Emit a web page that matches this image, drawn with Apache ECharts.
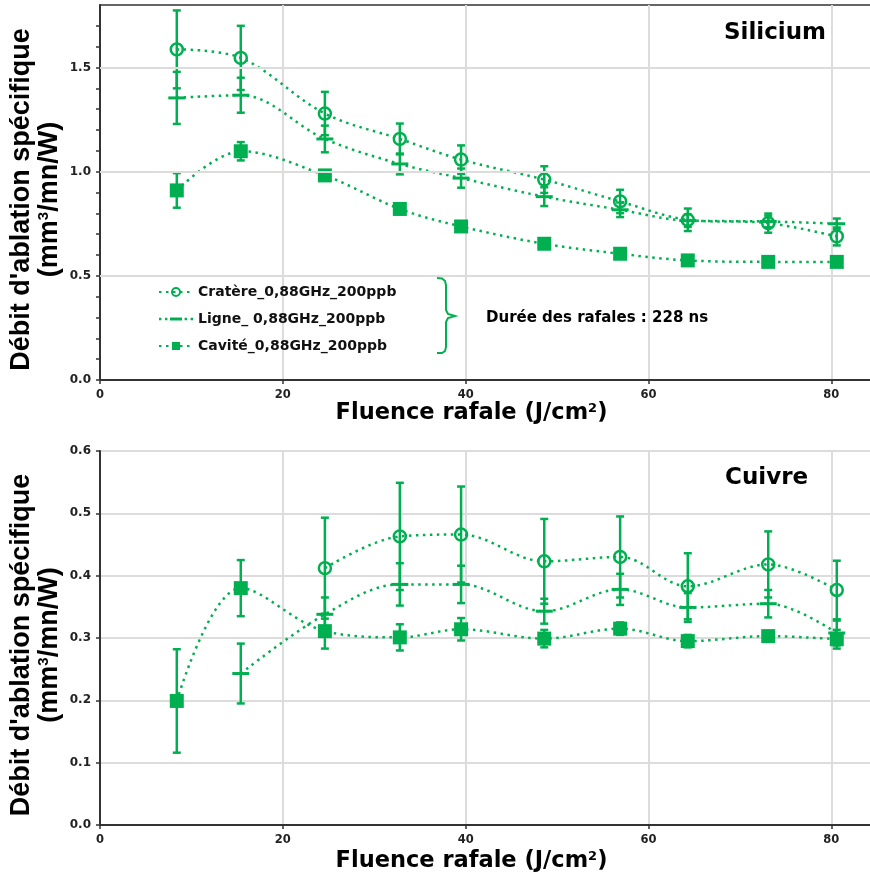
<!DOCTYPE html>
<html>
<head>
<meta charset="utf-8">
<script src="https://cdn.jsdelivr.net/npm/echarts@6/dist/echarts.min.js"></script>
<style>html,body{margin:0;padding:0;background:#fff}#c{width:870px;height:877px}</style>
</head>
<body>
<div id="c"></div>
<script>
// ---------- DATA ----------
const fluence = [8.4, 15.4, 24.6, 32.8, 39.5, 48.6, 56.9, 64.3, 73.1, 80.6];
const seriesNames = ['Cratère_0,88GHz_200ppb', 'Ligne_ 0,88GHz_200ppb', 'Cavité_0,88GHz_200ppb'];

// Silicium
const siCratere    = [1.587, 1.546, 1.279, 1.157, 1.058, 0.962, 0.857, 0.769, 0.753, 0.689];
const siCratereErr = [0.187, 0.154, 0.104, 0.074, 0.068, 0.064, 0.056, 0.054, 0.046, 0.043];
const siLigne      = [1.354, 1.367, 1.157, 1.037, 0.969, 0.880, 0.817, 0.765, 0.761, 0.750];
const siLigneErr   = [0.125, 0.084, 0.064, 0.050, 0.046, 0.045, 0.035, 0.030, 0.028, 0.025];
const siCavite     = [0.910, 1.098, 0.982, 0.821, 0.737, 0.654, 0.606, 0.574, 0.567, 0.567];
const siCaviteErr  = [0.083, 0.044, 0.012, 0.010, 0.010, 0.010, 0.008, 0.008, 0.008, 0.008];

// Cuivre
const cuCratere    = [null, null, 0.412, 0.463, 0.466, 0.423, 0.430, 0.383, 0.418, 0.377];
const cuCratereErr = [null, null, 0.081, 0.086, 0.077, 0.068, 0.065, 0.053, 0.053, 0.047];
const cuLigne      = [null, 0.243, 0.338, 0.386, 0.386, 0.343, 0.378, 0.349, 0.355, 0.308];
const cuLigneErr   = [null, 0.048, 0.027, 0.034, 0.030, 0.020, 0.025, 0.023, 0.022, 0.020];
const cuCavite     = [0.199, 0.380, 0.311, 0.301, 0.314, 0.299, 0.315, 0.295, 0.303, 0.298];
const cuCaviteErr  = [0.083, 0.045, 0.028, 0.021, 0.018, 0.014, 0.010, 0.010, 0.008, 0.015];

// axes
const xTicks = [0, 20, 40, 60, 80];
const siGridValues = [0.5, 1.0, 1.5];
const siYMax = 1.8;
const cuYMax = 0.6;
const xMax = 85;

// ---------- STYLE ----------
const GREEN = '#00B050';
const DJ = '"DejaVu Sans", sans-serif';
const LIB = '"Liberation Sans", Arial, sans-serif';

function pts(vals) {
  return fluence.map((x, i) => vals[i] == null ? null : [x, vals[i]]).filter(Boolean);
}
function errs(vals, e) {
  return fluence.map((x, i) => vals[i] == null ? null : [x, vals[i] - e[i], vals[i] + e[i]]).filter(Boolean);
}
function renderErr(params, api) {
  const x = api.value(0), lo = api.value(1), hi = api.value(2);
  const p1 = api.coord([x, hi]), p2 = api.coord([x, lo]);
  const w = 4;
  const st = { stroke: GREEN, lineWidth: 2.5 };
  return {
    type: 'group',
    children: [
      { type: 'line', shape: { x1: p1[0], y1: p1[1], x2: p2[0], y2: p2[1] }, style: st },
      { type: 'line', shape: { x1: p1[0] - w, y1: p1[1], x2: p1[0] + w, y2: p1[1] }, style: st },
      { type: 'line', shape: { x1: p2[0] - w, y1: p2[1], x2: p2[0] + w, y2: p2[1] }, style: st }
    ]
  };
}
const lineStyle = { color: GREEN, width: 2.5, type: [2.5, 4.5] };
const markerDefs = [
  { symbol: 'circle', symbolSize: 12, itemStyle: { color: 'rgba(255,255,255,0)', borderColor: GREEN, borderWidth: 2.5 } },
  { symbol: 'rect', symbolSize: [17, 3], symbolKeepAspect: true, itemStyle: { color: GREEN } },
  { symbol: 'rect', symbolSize: 14, itemStyle: { color: GREEN } }
];

// legend icon for "Ligne": dotted line with a short dash in the middle (34 x 10 box)
const ligneIcon = 'path://M0,0h0.01v0.01h-0.01z M33.99,9.99h0.01v0.01h-0.01z ' +
  'M0,3.8h2.4v2.4h-2.4z M6,3.8h2.4v2.4h-2.4z M11,3.6h12v2.8h-12z ' +
  'M25.6,3.8h2.4v2.4h-2.4z M31.6,3.8h2.4v2.4h-2.4z';

function makeSeries(gi, sets) {
  const out = [];
  sets.forEach((s, k) => {
    out.push({
      type: 'custom', name: seriesNames[k] + '_err' + gi, xAxisIndex: gi, yAxisIndex: gi,
      renderItem: renderErr, data: errs(s[0], s[1]), encode: { x: 0, y: [1, 2] }, z: 2, silent: true
    });
  });
  sets.forEach((s, k) => {
    const m = markerDefs[k];
    out.push(Object.assign({
      type: 'line', name: seriesNames[k], xAxisIndex: gi, yAxisIndex: gi,
      data: pts(s[0]), smooth: 0.35, lineStyle: lineStyle, z: 3, animation: false,
      showAllSymbol: true
    }, m));
  });
  return out;
}

const series = [].concat(
  makeSeries(0, [[siCratere, siCratereErr], [siLigne, siLigneErr], [siCavite, siCaviteErr]]),
  makeSeries(1, [[cuCratere, cuCratereErr], [cuLigne, cuLigneErr], [cuCavite, cuCaviteErr]])
);
// horizontal grid lines of the Silicium panel at the labelled values
series.push({
  type: 'line', xAxisIndex: 0, yAxisIndex: 0, data: [], z: 1, silent: true,
  markLine: {
    silent: true, symbol: 'none', label: { show: false },
    lineStyle: { color: '#dcdcdc', width: 2, type: 'solid' },
    data: siGridValues.map(v => ({ yAxis: v }))
  }
});

const tickLabel = { fontFamily: DJ, fontWeight: 'bold', fontSize: 12, color: '#222' };
const xName = '{a|Fluence rafale (J/cm}{s|2}{a|)}';
const yName = '{a|Débit d\'ablation spécifique}\n{a|(mm}{s|3}{a|/mn/W)}';
const xNameStyle = {
  padding: [0, 34, 0, 0],
  rich: {
    a: { fontFamily: DJ, fontWeight: 'bold', fontSize: 22.5, color: '#000' },
    s: { fontFamily: DJ, fontWeight: 'bold', fontSize: 13, color: '#000', padding: [0, 0, 10, 0] }
  }
};
const yNameStyle = {
  padding: [0, 14, 0, 0],
  rich: {
    a: { fontFamily: LIB, fontWeight: 'bold', fontSize: 27, lineHeight: 28, color: '#000' },
    s: { fontFamily: LIB, fontWeight: 'bold', fontSize: 15, lineHeight: 28, color: '#000', padding: [0, 0, 12, 0] }
  }
};

function xAxis(gi, gap) {
  return {
    type: 'value', gridIndex: gi, min: 0, max: xMax, interval: 20,
    axisLine: { show: true, lineStyle: { color: '#333', width: 2 } },
    axisTick: { show: true, length: 4, lineStyle: { color: '#333', width: 1.5 } },
    axisLabel: { ...tickLabel, fontSize: 11.5, margin: 9, showMaxLabel: false,
      formatter: v => xTicks.indexOf(v) >= 0 ? String(v) : '' },
    splitLine: { show: true, lineStyle: { color: '#dcdcdc', width: 2 } },
    name: xName, nameLocation: 'middle', nameGap: gap, nameMoveOverlap: false, nameTextStyle: xNameStyle
  };
}

const option = {
  animation: false,
  backgroundColor: '#fff',
  grid: [
    { left: 100, top: 5, width: 777, height: 375, show: true, borderColor: '#333', borderWidth: 1.5,
      backgroundColor: 'transparent', containLabel: false, outerBoundsMode: 'none' },
    { left: 100, top: 451, width: 777, height: 374, show: true, borderColor: '#333', borderWidth: 1.5,
      backgroundColor: 'transparent', containLabel: false, outerBoundsMode: 'none' }
  ],
  xAxis: [xAxis(0, 22), xAxis(1, 25)],
  yAxis: [
    {
      type: 'value', gridIndex: 0, min: 0, max: siYMax, interval: 0.1,
      axisLine: { show: true, lineStyle: { color: '#333', width: 2 } },
      axisTick: { show: true, length: 4, lineStyle: { color: '#333', width: 1.5 } },
      axisLabel: { ...tickLabel, margin: 9, showMaxLabel: false,
        formatter: v => (Math.round(v * 10) % 5 === 0) ? v.toFixed(1) : '' },
      splitLine: { show: false },
      name: yName, nameLocation: 'middle', nameRotate: 90, nameGap: 36, nameMoveOverlap: false, nameTextStyle: yNameStyle
    },
    {
      type: 'value', gridIndex: 1, min: 0, max: cuYMax, interval: 0.1,
      axisLine: { show: true, lineStyle: { color: '#333', width: 2 } },
      axisTick: { show: true, length: 4, lineStyle: { color: '#333', width: 1.5 } },
      axisLabel: { ...tickLabel, margin: 9, formatter: v => v.toFixed(1) },
      splitLine: { show: true, lineStyle: { color: '#dcdcdc', width: 2 } },
      name: yName, nameLocation: 'middle', nameRotate: 90, nameGap: 36, nameMoveOverlap: false, nameTextStyle: yNameStyle
    }
  ],
  legend: {
    data: [
      { name: seriesNames[0] },
      { name: seriesNames[1], icon: ligneIcon, itemStyle: { color: GREEN } },
      { name: seriesNames[2] }
    ],
    orient: 'vertical', left: 153, top: 280,
    itemGap: 13, itemWidth: 34, itemHeight: 10,
    textStyle: { fontFamily: DJ, fontWeight: 'bold', fontSize: 14, color: '#111' },
    selectedMode: false
  },
  graphic: [
    { type: 'polyline', shape: { points: [[437,278],[442,278.5],[445,281],[446,285],[446,310],[448,314],[455,316],[448,318],[446,322],[446,347],[445,351],[442,353],[437,353]] },
      style: { stroke: GREEN, lineWidth: 2, fill: null } },
    { type: 'text', x: 486, y: 318, style: { text: 'Durée des rafales : 228 ns', font: 'bold 15px "DejaVu Sans"', fill: '#000', verticalAlign: 'middle' } },
    { type: 'text', x: 724, y: 33, style: { text: 'Silicium', font: 'bold 23px "DejaVu Sans"', fill: '#000', verticalAlign: 'middle' } },
    { type: 'text', x: 725, y: 478, style: { text: 'Cuivre', font: 'bold 23px "DejaVu Sans"', fill: '#000', verticalAlign: 'middle' } }
  ],
  series: series
};

const chart = echarts.init(document.getElementById('c'), null, { renderer: 'canvas' });
chart.setOption(option);
</script>
</body>
</html>
